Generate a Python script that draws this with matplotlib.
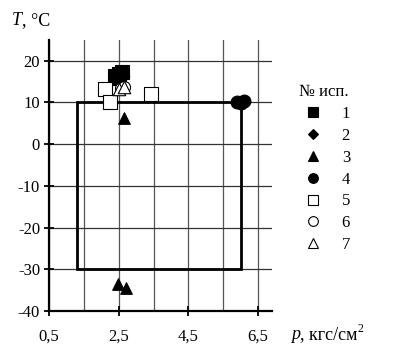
import matplotlib
matplotlib.use("Agg")
import matplotlib.pyplot as plt
from matplotlib.lines import Line2D
from matplotlib.patches import Rectangle

plt.rcParams['font.family'] = ['Liberation Serif', 'DejaVu Serif']
plt.rcParams['axes.unicode_minus'] = False

# данные испытаний: давление p (кгс/см2), температура T (°C)
p1 = [2.4, 2.5, 2.6, 2.45]
t1 = [16.3, 16.8, 17.2, 15.8]
p2 = [2.5, 2.6]
t2 = [16.0, 16.4]
p3 = [2.66, 2.48, 2.71, 2.55]
t3 = [6.3, -33.5, -34.6, 14.0]
p4 = [5.9, 6.1, 6.0]
t4 = [10.0, 10.4, 9.8]
p5 = [2.1, 2.25, 3.43]
t5 = [13.2, 10.2, 12.0]
p6 = [2.55, 2.65]
t6 = [13.5, 13.8]
p7 = [2.5, 2.65]
t7 = [13.2, 13.6]

labels = ["1", "2", "3", "4", "5", "6", "7"]
markers = ['s', 'D', '^', 'o', 's', 'o', '^']
filled = [True, True, True, True, False, False, False]

# область допустимых режимов
box_p = (1.3, 6.0)
box_t = (-30, 10)

x_ticks = [0.5, 2.5, 4.5, 6.5]
x_minor = [1.5, 3.5, 5.5]
y_ticks = [-40, -30, -20, -10, 0, 10, 20]

fig = plt.figure(figsize=(3.93, 3.53), dpi=100)
ax = fig.add_axes([0.125, 0.119, 0.567, 0.768])

ax.set_xlim(0.5, 6.9)
ax.set_ylim(-40, 25)

for x in x_ticks + x_minor:
    ax.axvline(x, color='#555555', linewidth=0.9, zorder=1)
for y in y_ticks[1:]:
    ax.axhline(y, color='#333333', linewidth=0.9, zorder=1)

ax.add_patch(Rectangle((box_p[0], box_t[0]), box_p[1] - box_p[0], box_t[1] - box_t[0],
                       fill=False, edgecolor='black', linewidth=2.0, zorder=2))

series = [(p1, t1), (p2, t2), (p3, t3), (p4, t4), (p5, t5), (p6, t6), (p7, t7)]
sizes = [100, 55, 70, 85, 90, 75, 80]
for i, (p, t) in enumerate(series):
    fc = 'black' if filled[i] else 'white'
    ax.scatter(p, t, marker=markers[i], s=sizes[i], facecolor=fc,
               edgecolor='black', linewidth=0.8, zorder=3)

ax.set_xticks(x_ticks)
ax.set_xticklabels([("%.1f" % v).replace('.', ',') for v in x_ticks])
ax.set_yticks(y_ticks)
ax.tick_params(direction='inout', length=7, width=1.3, labelsize=12, colors='black')
ax.tick_params(axis='x', pad=9)
ax.tick_params(axis='y', pad=3)

for s in ['top', 'right']:
    ax.spines[s].set_visible(False)
for s in ['left', 'bottom']:
    ax.spines[s].set_linewidth(1.6)


def text_chain(x, y, parts):
    # кусочки текста один за другим: (строка, размер, стиль, сдвиг по y в пикселях)
    renderer = fig.canvas.get_renderer()
    cur = x * fig.bbox.width
    base = y * fig.bbox.height
    for s, size, style, dy in parts:
        t = fig.text(cur / fig.bbox.width, (base + dy) / fig.bbox.height, s,
                     fontsize=size, style=style, ha='left', va='baseline')
        cur = t.get_window_extent(renderer).x1


text_chain(0.03, 0.93, [("T", 13, 'italic', 0), (", °C", 13, 'normal', 0)])
text_chain(0.74, 0.04, [("p", 13, 'italic', 0), (", кгс/см", 13, 'normal', 0),
                        ("2", 8.5, 'normal', 7)])

handles = []
for i in range(len(labels)):
    fc = 'black' if filled[i] else 'white'
    handles.append(Line2D([], [], linestyle='none', marker=markers[i],
                          markersize=7 if markers[i] != 'D' else 5.5,
                          markerfacecolor=fc, markeredgecolor='black', markeredgewidth=0.8))
leg = fig.legend(handles, labels, title="№ исп.", loc='upper left',
                 bbox_to_anchor=(0.755, 0.785), frameon=False, fontsize=12,
                 title_fontsize=12, handletextpad=1.2, labelspacing=0.35,
                 handlelength=1.0, borderpad=0)
leg._legend_box.align = "left"
leg.get_title().set_position((-6, 0))

fig.savefig("out.png", dpi=100)
